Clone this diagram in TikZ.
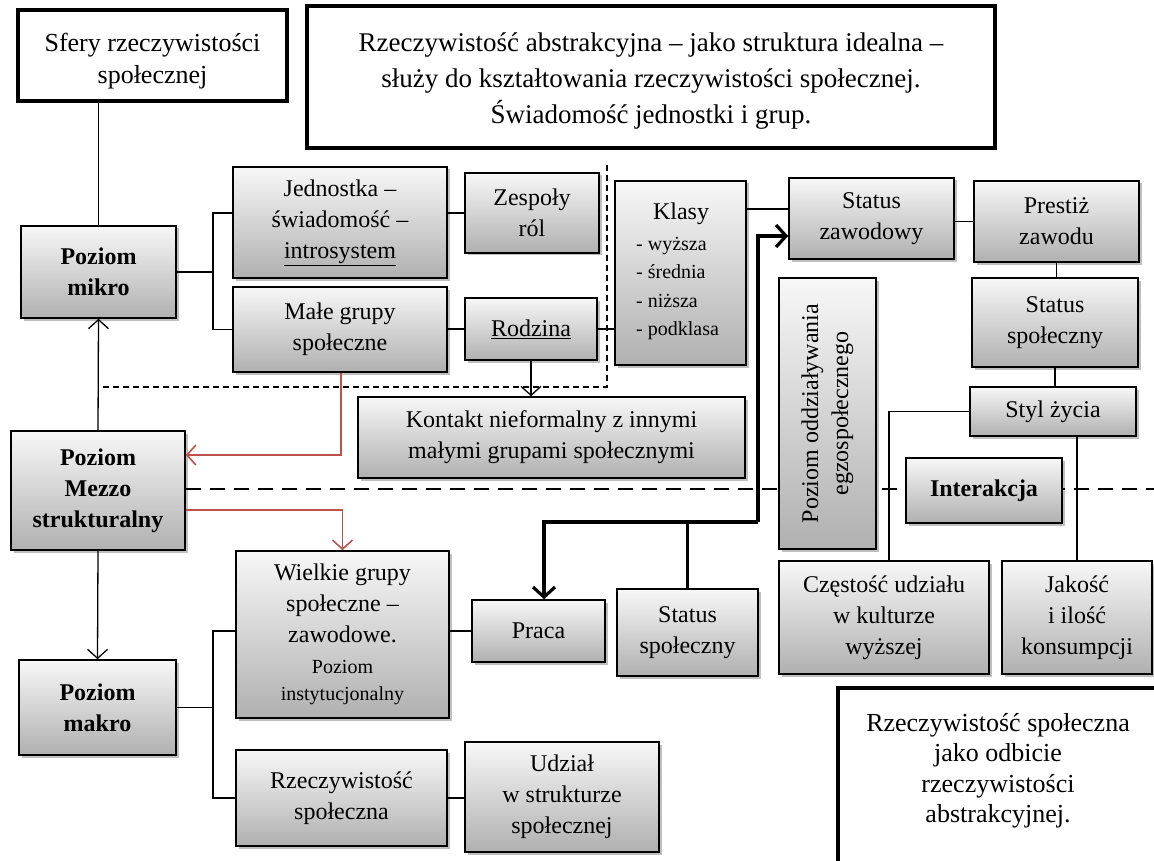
\documentclass[tikz,border=0pt]{standalone}
\usepackage{fontspec}
\setmainfont{Liberation Serif}
\usetikzlibrary{arrows.meta,calc,shadows}
\newcommand\fsz[2]{\fontsize{#1}{#2}\selectfont}
% lowers a centred block of lines without changing its reported size
\newcommand\lowered[2]{\raisebox{-#1}[\height][\depth]{\begin{tabular}{@{}c@{}}#2\end{tabular}}}
\definecolor{redln}{RGB}{192,80,77}
\pgfdeclarelayer{background}
\pgfsetlayers{background,main}

\tikzset{
  tipThin/.tip={Straight Barb[length=9pt,width=20pt]},
  tipThick/.tip={Straight Barb[length=10pt,width=22pt]},
  % box given by its corners x1/y1/x2/y2
  bb/.style args={#1/#2/#3/#4}{at={($(#1,#2)!.5!(#3,#4)$)},
    minimum width={#3-#1}, minimum height={#4-#2}},
  gbox/.style={draw=black, line width=1.6pt, top color=gray!6, bottom color=gray!62,
    inner sep=0pt, align=center, font=\fsz{24}{31},
    drop shadow={shadow xshift=2.5pt, shadow yshift=-2.5pt, opacity=0.25, fill=black}},
  wbox/.style={draw=black, line width=4pt, fill=white, inner sep=0pt, align=center},
  conn/.style={line width=1.3pt},
  redl/.style={line width=1.6pt, draw=redln},
  thk/.style={line width=3.2pt},
  bld/.style={font=\fsz{24}{31}\bfseries}
}

\begin{document}
\begin{tikzpicture}[x=1pt,y=-1pt]
\useasboundingbox (0,0) rectangle (1154,861);
\clip (0,0) rectangle (1154,861);

% framed statements
\node[wbox, bb=18/10/287/101, font=\fsz{26}{32}] (sfery) {\lowered{6pt}{Sfery rzeczywistości\\społecznej}};
\node[wbox, bb=307/6/995/148, font=\fsz{27}{36}] (topb)
  {\lowered{3pt}{Rzeczywistość abstrakcyjna -- jako struktura idealna --\\służy do kształtowania rzeczywistości społecznej.\\Świadomość jednostki i grup.}};
\node[wbox, bb=838/688/1175/885] (refl) {};
\node[font=\fsz{26}{30.5}, align=center] (reflT) at (998,771)
  {Rzeczywistość społeczna\\jako odbicie\\rzeczywistości\\abstrakcyjnej.};

% levels
\node[gbox, bld, bb=21/226/176/318] (mikro) {Poziom\\mikro};
\node[gbox, bld, bb=11/431/185/550] (mezzo) {Poziom\\Mezzo\\strukturalny};
\node[gbox, bld, bb=19/660/176/755] (makro) {Poziom\\makro};

% micro level
\node[gbox, bb=233/167/447/278] (jed) {Jednostka --\\świadomość --\\\underline{introsystem}};
\node[gbox, bb=465/173/599/253] (zes) {Zespoły\\ról};
\node[gbox, bb=233/287/447/372] (male) {Małe grupy\\społeczne};
\node[gbox, bb=465/298/597/360] (rod) {\underline{Rodzina}};
\node[gbox, bb=615/181/746/365] (kla) {};
\node[font=\fsz{24}{31}] (klaT) at (681,214) {Klasy};
\node[font=\fsz{20}{28.5}, align=left, anchor=north west, inner sep=0pt] (klaL) at (636,237)
  {- wyższa\\- średnia\\- niższa\\- podklasa};
\node[gbox, bb=358/397/745/478] (kont) {Kontakt nieformalny z innymi\\małymi grupami społecznymi};

% status chain
\node[gbox, bb=789/178/954/259] (sz) {Status\\zawodowy};
\node[gbox, bb=974/181/1139/262] (prest) {Prestiż\\zawodu};
\node[gbox, bb=972/278/1138/367] (ssR) {Status\\społeczny};
\node[gbox, bb=970/387/1136/436] (styl) {Styl życia};
\node[gbox, bb=779/278/876/549] (egz) {};
\node[rotate=90, font=\fsz{24}{30}, align=center] (egzT) at (egz.center) {Poziom oddziaływania\\egzospołecznego};
\node[gbox, bld, bb=906/458/1062/523] (inter) {Interakcja};
\node[gbox, bb=779/561/989/674] (czest) {Częstość udziału\\w kulturze\\wyższej};
\node[gbox, bb=1002/561/1152/674] (jak) {Jakość\\i ilość\\konsumpcji};

% macro level
\node[gbox, bb=236/551/449/718] (wiel)
  {Wielkie grupy\\społeczne --\\zawodowe.\\\fsz{20}{26}Poziom\\[-4pt]\fsz{20}{26}instytucjonalny};
\node[gbox, bb=472/600/605/662] (prac) {Praca};
\node[gbox, bb=617/589/758/676] (ssL) {Status\\społeczny};
\node[gbox, bb=236/750/447/846] (rzs) {Rzeczywistość\\społeczna};
\node[gbox, bb=465/742/659/852] (udz) {Udział\\w strukturze\\społecznej};

% boundaries
\coordinate (dA) at (103,387);
\coordinate (dB) at (607,165);
\coordinate (dE) at (1154,489);
\begin{pgfonlayer}{background}
  \fill[white] (0,0) rectangle (1154,861);
  \draw[line width=1.2pt, dash pattern=on 6pt off 4pt] (dA) -| (dB);
  \draw[line width=2.6pt, dash pattern=on 15pt off 9pt] (mezzo.east |- dE) -- (dE);
\end{pgfonlayer}

% level hierarchy
\draw[conn] (sfery.south -| mikro.north) -- (mikro.north);
\draw[conn, -{tipThin}] (mezzo.north) -- (mikro.south);
\draw[conn, -{tipThin}] (mezzo.south) -- (makro.north);

\coordinate (b1) at (213,272);
\draw[conn] (mikro.east) -- (b1);
\draw[conn] (jed.west |- zes.west) -| (b1) |- (male.west);
\draw[conn] (jed.east |- zes.west) -- (zes.west);
\draw[conn] (male.east |- rod.west) -- (rod.west);
\draw[conn] (rod.east) -- (kla.west |- rod.east);
\draw[conn, -{tipThin}] (rod.south) -- (rod.south |- kont.north);
\draw[conn] (kla.east |- 0,209) -- (sz.west |- 0,209);
\draw[conn] (sz.east |- prest.west) -- (prest.west);
\draw[conn] (prest.south) -- (prest.south |- ssR.north);
\draw[conn] (ssR.south) -- (ssR.south |- styl.north);
\draw[conn] (styl.west) -| (czest.north -| 889,0);
\draw[conn] (styl.south -| jak.north) -- (jak.north);

% red links of the mezzo level
\draw[redl, -{tipThin}] (male.south -| 341,0) |- (mezzo.east |- 0,455);
\draw[redl, -{tipThin}] (mezzo.east |- 0,510) -| (wiel.north);

% work and status
\coordinate (jn) at (758,522);
\draw[thk, -{tipThick}] (jn) |- (sz.west |- 0,236);
\draw[thk, -{tipThick}] (jn) -| (prac.north -| 544,0);
\draw[thk] (ssL.north) -- (ssL.north |- jn);

% macro level links
\coordinate (b2) at (213,707.5);
\draw[conn] (makro.east) -- (b2);
\draw[conn] (wiel.west |- prac.west) -| (b2) |- (rzs.west);
\draw[conn] (wiel.east |- prac.west) -- (prac.west);
\draw[conn] (rzs.east) -- (udz.west |- rzs.east);
\end{tikzpicture}
\end{document}
